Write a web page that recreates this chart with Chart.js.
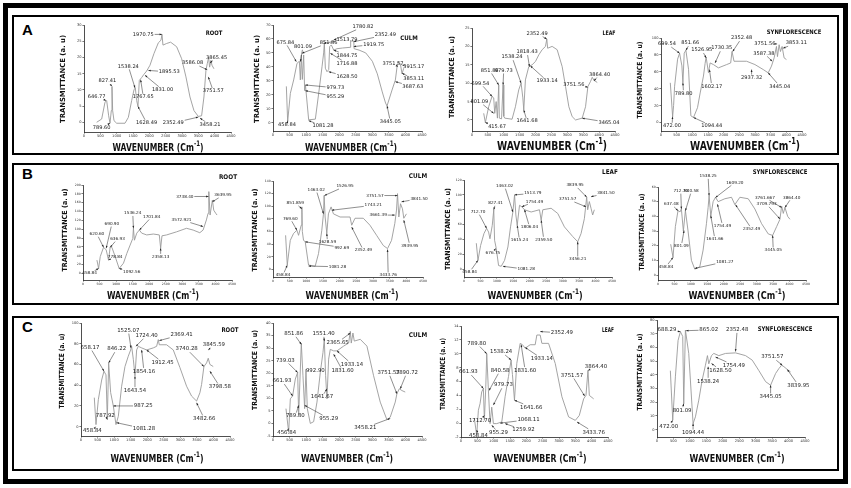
<!DOCTYPE html>
<html><head><meta charset="utf-8">
<script src="https://cdn.jsdelivr.net/npm/chart.js@4"></script>
<style>
html,body{margin:0;padding:0;background:#fff;}
#page{position:relative;width:851px;height:488px;overflow:hidden;background:#fff;font-family:"DejaVu Sans",sans-serif;}
.box{position:absolute;box-sizing:border-box;}
.t{position:absolute;white-space:nowrap;line-height:1;color:#111;font-weight:bold;font-family:"DejaVu Sans",sans-serif;}
.t sup{font-size:0.72em;position:relative;top:-0.1em;line-height:0;vertical-align:super;}
.letter{position:absolute;font-family:"Liberation Sans",Arial,sans-serif;font-weight:bold;font-size:15px;line-height:1;color:#000;}
canvas{position:absolute;}
</style></head><body><div id="page"></div>
<script>
// ---------- data ----------
const X_TICKS=[0,500,1000,1500,2000,2500,3000,3500,4000,4500];

const Y_TICKS_A_ROOT=[0,5,10,15,20,25,30];
const Y_TICKS_A_CULM=[0,10,20,30,40,50,60,70];
const Y_TICKS_A_LEAF=[0,5,10,15,20,25];
const Y_TICKS_A_SYNF=[0,20,40,60,80,100];
const Y_TICKS_B_ROOT=[0,20,40,60,80,100,120,140,160,180,200];
const Y_TICKS_B_CULM=[0,20,40,60,80,100,120,140];
const Y_TICKS_B_LEAF=[0,20,40,60,80,100,120];
const Y_TICKS_B_SYNF=[0,10,20,30,40,50,60];
const Y_TICKS_C_ROOT=[0,20,40,60,80,100];
const Y_TICKS_C_CULM=[-5,0,5,10,15,20,25,30,35,40];
const Y_TICKS_C_LEAF=[-2,0,2,4,6,8,10,12,14];
const Y_TICKS_C_SYNF=[0,10,20,30,40,50,60,70,80];

// spectra: [wavenumber, transmittance]
const A_ROOT=[[388,0],[541,1],[643,6.2],[694,6.7],[755,2],[796,-0.3],[836,3.6],[857,11],[877,3.6],[918,0.5],[1000,-0.3],[1255,-0.3],[1357,1.5],[1459,6.7],[1530,10],[1571,10.6],[1612,6.7],[1652,4.9],[1693,12.9],[1765,13.8],[1836,14.8],[1918,15.8],[2020,17.6],[2142,21.2],[2275,24.5],[2356,25.3],[2387,27.1],[2417,23.8],[2530,24.3],[2652,24.7],[2836,23.3],[2989,19.6],[3121,14],[3244,7.8],[3366,3.6],[3499,1.8],[3600,2],[3672,7.8],[3733,16],[3774,18.1],[3815,20],[3845,17],[3886,19.1],[3917,17.6],[3978,16.5]];
const A_CULM=[[403,26],[443,0.7],[524,21],[624,30.6],[725,42.5],[796,44],[826,30.6],[856,48.5],[886,31],[926,48.5],[956,23],[980,27],[1077,2],[1279,2.5],[1380,21],[1480,40],[1530,50],[1551,56.9],[1581,39],[1631,36.5],[1682,38],[1712,54.5],[1762,55.7],[1833,52],[1933,53],[2100,53.5],[2330,54],[2345,58.5],[2440,58.5],[2450,53],[2600,52],[2800,50],[3000,44],[3150,35],[3300,22],[3400,14],[3444,12],[3595,23.4],[3696,30.6],[3746,40],[3796,43.7],[3847,42],[3897,35],[3947,39]];
const A_LEAF=[[368,1.8],[420,-0.7],[525,3.6],[630,6.4],[683,6],[715,1.8],[760,5],[800,0.5],[841,9.5],[860,0.5],[930,0.3],[977,9.5],[1000,1],[1030,0.5],[1261,0.2],[1366,3.6],[1471,8.2],[1545,10],[1600,6],[1629,2.7],[1681,10.9],[1787,14.5],[1892,15],[1997,15.9],[2102,17.7],[2207,19.1],[2312,20],[2354,22],[2380,19.5],[2522,20],[2680,19.1],[2838,14.5],[2943,9.1],[3048,3.6],[3153,0.9],[3258,0],[3468,0.5],[3573,3.6],[3647,9.1],[3731,10.5],[3784,11.6],[3836,10.8],[3941,10.2]];
const A_SYNF=[[297,47],[371,7],[402,20],[434,43],[530,75],[593,82],[667,67],[699,47],[741,82],[794,85.5],[879,63],[953,8],[1038,6],[1165,17.6],[1250,35],[1355,55],[1408,70],[1440,77.6],[1514,59],[1567,70.5],[1673,68.6],[1832,64.7],[2097,68.6],[2224,70.5],[2266,84],[2330,72.5],[2732,72.5],[2997,68.6],[3262,62.7],[3421,58.8],[3526,66.7],[3611,76.5],[3685,90],[3717,78],[3770,92],[3812,84],[3865,90],[3929,76.5],[4003,74.5]];
const B_ROOT=[[421,30],[471,11],[521,38],[621,59],[701,53],[771,30],[822,60],[872,59],[972,38],[1092,11],[1222,23],[1323,45],[1423,64],[1503,79],[1523,102],[1553,75],[1623,91],[1703,98],[1774,91],[1924,87],[2124,89],[2304,87],[2345,57],[2385,85],[2525,87],[2826,94],[3126,102],[3327,98],[3527,92],[3627,98],[3727,121],[3778,136],[3800,185],[3838,132],[3908,166],[3948,143],[4008,136],[4048,132]];
const B_CULM=[[378,54],[428,7],[518,46],[618,57],[717,62],[767,54],[847,70],[867,99],[880,60],[916,46],[966,44],[1066,7],[1265,5],[1365,25],[1464,62],[1514,88],[1534,117],[1564,83],[1614,57],[1663,88],[1743,99],[1813,88],[2012,83],[2311,83],[2361,70],[2460,81],[2709,81],[2908,70],[3108,54],[3307,38],[3436,33],[3556,46],[3655,73],[3705,94],[3735,120],[3775,83],[3825,104],[3884,96],[3924,81],[4004,88]];
const B_LEAF=[[374,35],[425,12],[505,32],[607,48],[687,55],[748,50],[789,41],[859,59],[905,80],[930,39],[981,28],[1051,5],[1132,4],[1233,12],[1335,30],[1415,57],[1486,77],[1537,100],[1577,73],[1618,59],[1688,86],[1759,84],[1840,80],[2042,77],[2295,80],[2346,66],[2396,80],[2649,82],[2851,75],[3053,57],[3306,44],[3458,37],[3559,48],[3660,68],[3730,97],[3761,80],[3811,91],[3862,82],[3912,73],[3963,80]];
const B_SYNF=[[386,21],[457,12],[528,33],[610,44],[670,43],[711,45],[772,30],[833,44],[914,30],[1016,10],[1118,4],[1270,5.6],[1372,17],[1473,35],[1524,46],[1554,54],[1605,40],[1676,50],[1748,53],[1829,50],[2032,52],[2235,53],[2337,48],[2489,53],[2743,52],[2946,45],[3150,35],[3353,28],[3485,27],[3607,33],[3708,38],[3759,47],[3810,42],[3861,46],[3942,40],[4013,38]];
const C_ROOT=[[402,28],[453,2],[523,26],[624,45],[694,53.5],[755,50],[795,7],[835,61.5],[895,33],[976,20],[1056,2],[1127,10],[1227,39],[1328,58],[1428,68],[1499,74],[1529,77.5],[1580,65],[1630,49],[1680,74],[1730,77.5],[1831,76],[1982,74],[2183,76],[2284,77.5],[2334,84],[2364,79],[2585,79],[2787,74],[2988,57],[3189,39],[3340,29.5],[3491,24.7],[3591,32.7],[3642,40.7],[3712,58],[3793,61.5],[3843,66],[3893,60],[3994,58]];
const C_CULM=[[392,5.9],[473,-3.5],[523,9.8],[594,11],[674,17.7],[744,20.3],[775,3.3],[855,32],[905,19],[956,5.9],[996,21.6],[1036,5.9],[1127,0],[1227,0.7],[1328,8.5],[1428,20.3],[1509,28.2],[1549,33.5],[1589,19],[1630,9.8],[1680,25.6],[1730,29.5],[1831,28.9],[1932,28.9],[2133,30.8],[2284,32],[2334,36.7],[2364,32],[2414,36],[2455,32.8],[2636,33.5],[2837,30.8],[3038,19],[3239,8.5],[3440,1.5],[3540,2.5],[3692,8.5],[3742,11.8],[3813,13.8],[3893,13.1],[3994,12.5]];
const C_LEAF=[[409,0.65],[481,-1.76],[532,1.86],[583,2.8],[634,4.5],[685,5],[716,0.4],[757,5],[788,10],[839,4.7],[890,-0.07],[941,2.3],[992,-0.07],[1095,-0.07],[1248,0.17],[1350,3.8],[1453,6.7],[1534,9.1],[1575,7],[1637,3.3],[1708,8.6],[1811,11.5],[1882,11.3],[1964,10.8],[2118,11.3],[2271,11.3],[2322,12.7],[2424,12.7],[2476,11.5],[2680,11.5],[2885,8.6],[3089,3.8],[3294,0.9],[3499,0.4],[3621,1.1],[3754,3.5],[3826,4],[3887,7.6],[3928,4],[4061,3.5]];
const C_SYNF=[[406,43],[478,7],[559,38.5],[640,65],[711,71.5],[782,68],[813,19],[864,72.7],[965,55.6],[1097,4.4],[1168,9.3],[1270,21.5],[1372,36],[1473,47],[1534,54],[1575,48],[1656,54],[1727,55.6],[1880,54],[2083,55.6],[2388,56],[2692,54],[2896,50.7],[3099,43],[3302,35],[3454,32.4],[3607,41],[3708,44.6],[3790,47],[3861,45.9],[3962,43.9],[4064,42]];

// peak labels: [text, peak wavenumber, peak value, label wavenumber, label value]
const A_ROOT_PEAKS=[['646.77',673,6.7,388,8.0],['827.41',857,11.1,714,12.7],['789.60',796,-0.3,541,-1.6],['1538.24',1561,10.6,1357,17.3],['1970.75',2387,27.1,1816,27.1],['1895.53',1969,16,2611,15.5],['1831.00',1867,14.5,2407,10],['1767.65',1734,13.1,1816,7.8],['1628.49',1652,4.9,1918,-0.2],['2352.49',3499,1.6,2734,-0.2],['3458.21',3550,1.3,3856,-0.8],['3586.08',3774,16.2,3325,18.3],['3865.45',3856,18.3,4060,20],['3751.57',3805,14,3958,9.6]];
const A_CULM_PEAKS=[['675.84',705,43.7,373,57.6],['801.09',826,43.7,906,54.5],['851.86',876,49.7,1682,57.3],['1780.82',1833,59.2,2719,68.8],['1513.79',1531,56.9,2235,59.7],['2352.49',2437,58,3394,62.8],['1919.75',2437,54.5,3041,56.1],['1844.75',1833,52,2235,48.3],['1716.88',1732,49.7,2235,42.5],['1628.50',1682,36.5,2235,33],['979.73',977,27,1883,25],['955.29',977,22.9,1883,18.6],['458.84',443,1.4,423,-1.5],['1081.28',1077,1.4,1510,-2.4],['3445.05',3444,12,3545,0.7],['3751.57',3776,40,3625,42.5],['3915.17',3897,41.3,4250,40],['3853.11',3897,35.4,4250,31.3],['3687.63',3696,29.4,4219,25.8]];
const A_LEAF_PEAKS=[['699.54',631,6.4,263,10],['801.09',683,1.8,231,5],['415.67',420,-0.7,788,-1.8],['851.86',841,9.5,557,13.5],['979.73',977,9.5,998,13.5],['1538.24',1545,10,1261,17.1],['1818.43',1808,14.5,1734,18.5],['2352.49',2354,22,2049,23.5],['1933.14',1839,14.7,2365,10.6],['1641.68',1629,2.7,1734,-0.3],['3751.56',3647,8.9,3206,9.7],['3864.40',3836,10.6,4015,12.4],['3465.04',3468,0.5,4309,-0.7]];
const A_SYNF_PEAKS=[['699.54',593,82,191,93],['851.66',794,85.5,933,94],['789.80',699,47,720,34.5],['472.00',371,7,350,-4],['1526.95',1440,76.5,1303,86],['1730.35',1726,70.5,1938,88],['1602.17',1546,62.7,1620,43],['1094.44',1038,6,1620,-4],['2352.48',2287,84,2573,100],['3751.56',3706,93,3315,93],['3853.11',3897,88,4321,94],['3587.38',3548,72.5,3283,82],['2937.32',2891,62.7,2891,53],['3445.04',3421,58.8,3791,43]];
const B_ROOT_PEAKS=[['620.60',621,59,421,89],['690.90',701,57,872,112],['636.93',822,59,1042,78],['778.84',771,30,972,38],['458.84',471,11,200,0],['1092.56',1092,11,1473,4],['1536.24',1523,102,1503,136],['1701.84',1703,98,2074,128],['2358.13',2345,57,2345,38],['3572.921',3627,106,2976,121],['3738.40',3790,174,3076,174],['3639.95',3908,162,4228,177]];
const B_CULM_PEAKS=[['769.60',717,62,518,80.5],['851.859',867,96,667,105],['1463.02',1514,88,1295,126],['1526.95',1544,117,2161,131.6],['1743.21',1763,93.7,3008,101.6],['1628.59',1614,57,1633,43.7],['992.69',966,43.7,2062,34.7],['2352.49',2361,67,2709,30.5],['3661.39',3655,86,3157,86],['3751.57',3735,117,3058,117],['3841.50',3855,107,4382,112],['3939.95',3924,78,4104,38],['3433.76',3436,31.6,3456,-9],['458.84',428,6.8,299,-9],['1081.28',1066,5.3,1932,4.2]];
const B_LEAF_PEAKS=[['712.70',687,55,425,77],['827.41',905,80,960,89],['676.75',960,28,880,22],['458.84',425,12,172,-3.6],['1081.28',1183,4,1891,0],['1463.02',1486,77,1233,112],['1513.79',1537,100,2093,102],['1754.49',1759,84,2143,91],['1806.04',1840,80,1992,57],['1615.24',1618,59,1688,39],['2359.50',2346,66,2426,40],['3839.95',3730,97,3377,113],['3751.57',3710,84,3154,94],['3841.50',3862,97.5,4317,102],['3456.21',3458,37,3458,13.5]];
const B_SYNF_PEAKS=[['637.48',610,43.8,406,48.3],['712.70',711,45,691,57.3],['840.58',833,43.8,1016,57.3],['801.09',792,30.3,711,20],['458.84',457,12,244,5.6],['1081.27',1118,4.5,2032,9],['1538.25',1554,54,1524,67.4],['1609.20',1748,52.8,2337,63],['1641.66',1605,40.4,1727,24.7],['1754.49',1808,48.3,1961,33.7],['2352.49',2357,47.9,2845,31.5],['3761.667',3759,46,3251,52.8],['3709.793',3708,38.2,3302,48.3],['3864.40',3861,46,4064,52.8],['3445.05',3485,27,3505,16.9]];
const C_ROOT_PEAKS=[['658.17',694,53.5,272,76.6],['846.22',835,61.5,1076,75],['787.92',795,7,734,10.9],['458.84',443,0,342,-4.2],['987.25',976,20,1881,20],['1081.28',1076,3.8,1902,-1.9],['1525.07',1509,76,1428,93],['1724.40',1660,77.6,1982,88],['1643.54',1630,48.7,1630,35],['1854.16',1831,74,1901,53.5],['1912.45',1982,74,2465,62],['2369.41',2364,83,3038,88.8],['3740.28',3712,58,3189,75],['3845.59',3843,74,4014,79],['3798.58',3893,53.5,4195,38.5],['3482.66',3491,23,3722,7.7]];
const C_CULM_PEAKS=[['851.86',855,31.5,624,35.8],['739.03',744,20.3,372,25.2],['661.93',594,10.9,272,17],['789.80',775,7.2,674,3],['456.84',473,-2,412,-3.7],['992.90',996,20.3,1278,21],['955.29',956,7.2,1680,2],['1551.40',1549,32.8,1529,35.8],['2365.65',2334,36,1952,32.2],['1933.14',1932,28.9,2384,23.6],['1831.60',1831,27.6,2103,21],['1641.67',1630,13.8,1479,10.5],['3751.57',3742,11.8,3491,20.3],['3890.72',3843,13.8,4044,20.3],['3458.21',3541,2,2787,-1.7]];
const C_LEAF_PEAKS=[['789.80',788,10,481,11.5],['661.93',685,5,225,7.4],['840.58',859,4.7,1197,7.6],['979.73',992,2.6,1299,5.5],['1538.24',1534,9.1,1228,10.3],['1831.60',1841,11.3,1964,7.6],['1933.14',1964,10.9,2476,9.3],['2352.49',2424,13.2,3089,13],['1641.66',1637,3.3,2148,2.3],['1712.70',716,1.1,583,0.4],['1068.11',1197,0,2067,0.5],['1259.92',1350,-0.07,1912,-1],['955.29',941,-0.3,1146,-1.4],['458.84',481,-1.0,532,-1.8],['3751.57',3785,3.9,3396,6.9],['3864.40',3887,7.6,4133,8.1],['3433.76',3550,0.17,4061,-1.3]];
const C_SYNF_PEAKS=[['688.29',711,71.5,305,72.7],['865.02',884,72.2,1575,72.7],['2352.48',2388,57,2438,73],['801.09',813,19,762,14],['472.00',478,6.8,356,2.4],['1094.44',1097,4.4,1097,-2.4],['1538.24',1555,45.9,1555,35.4],['1628.50',1656,48.3,1930,43.4],['1754.49',1778,53,2337,47],['3751.57',3810,47,3505,53],['3445.05',3454,32.4,3454,24],['3839.95',3962,43.9,4298,32.4]];

// ---------- chart list (data) + layout (pixel placement) ----------
const CHARTS=[
 {name:'ROOT',data:A_ROOT,peaks:A_ROOT_PEAKS,yTicks:Y_TICKS_A_ROOT,yMin:-3,yMax:30,row:'A'},
 {name:'CULM',data:A_CULM,peaks:A_CULM_PEAKS,yTicks:Y_TICKS_A_CULM,yMin:-6,yMax:70,row:'A'},
 {name:'LEAF',data:A_LEAF,peaks:A_LEAF_PEAKS,yTicks:Y_TICKS_A_LEAF,yMin:-3,yMax:25,row:'A'},
 {name:'SYNFLORESCENCE',data:A_SYNF,peaks:A_SYNF_PEAKS,yTicks:Y_TICKS_A_SYNF,yMin:-10,yMax:100,row:'A'},
 {name:'ROOT',data:B_ROOT,peaks:B_ROOT_PEAKS,yTicks:Y_TICKS_B_ROOT,yMin:-15,yMax:200,row:'B'},
 {name:'CULM',data:B_CULM,peaks:B_CULM_PEAKS,yTicks:Y_TICKS_B_CULM,yMin:-12,yMax:140,row:'B'},
 {name:'LEAF',data:B_LEAF,peaks:B_LEAF_PEAKS,yTicks:Y_TICKS_B_LEAF,yMin:-10.4,yMax:120,row:'B'},
 {name:'SYNFLORESCENCE',data:B_SYNF,peaks:B_SYNF_PEAKS,yTicks:Y_TICKS_B_SYNF,yMin:-3.4,yMax:60,row:'B'},
 {name:'ROOT',data:C_ROOT,peaks:C_ROOT_PEAKS,yTicks:Y_TICKS_C_ROOT,yMin:-9,yMax:100,row:'C'},
 {name:'CULM',data:C_CULM,peaks:C_CULM_PEAKS,yTicks:Y_TICKS_C_CULM,yMin:-5,yMax:40,row:'C'},
 {name:'LEAF',data:C_LEAF,peaks:C_LEAF_PEAKS,yTicks:Y_TICKS_C_LEAF,yMin:-2,yMax:14,row:'C'},
 {name:'SYNFLORESCENCE',data:C_SYNF,peaks:C_SYNF_PEAKS,yTicks:Y_TICKS_C_SYNF,yMin:-5.4,yMax:80,row:'C'}
];
// plot rect [left,top,right,bottom]; title [cx,cy,width]; y-title [cx,cy,len]; x-title [cx,cy,width]
const LAYOUT=[
 {rect:[84,25,231,131.7],title:[214,33,17],yt:[63,79,88],xt:[158,147,91]},
 {rect:[273,25,422,131],title:[409,38,18],yt:[257,79,88],xt:[351,147,92]},
 {rect:[471.7,28.3,614.3,131],title:[609,33,13],yt:[452,77,82],xt:[552,147,110]},
 {rect:[660.7,38.3,801.7,131.7],title:[794,32,55],yt:[640,80,77],xt:[745,147,110]},
 {rect:[82.7,185,232,280],title:[228,177,18],yt:[65,230,83],xt:[153,295,92]},
 {rect:[272.7,180.7,423,277],title:[418,176,18],yt:[255,230,83],xt:[352,295,93]},
 {rect:[464.3,180,612.7,277],title:[610,172,16],yt:[448,229,82],xt:[535,295,95]},
 {rect:[658.3,186.7,806,280],title:[780,172,55],yt:[642,232,77],xt:[737,295,97]},
 {rect:[81,323.3,230,436.7],title:[230,330,17],yt:[62,371,75],xt:[157,458,93]},
 {rect:[272.7,323.3,421.7,436.7],title:[418,335,18],yt:[255,370,80],xt:[347,458,92]},
 {rect:[461,326,607.7,436.7],title:[608,330,12],yt:[443,374,72],xt:[540,458,93]},
 {rect:[656.7,320,804.3,436.7],title:[785,329,55],yt:[640,372,77],xt:[737,458,95]}
];
const ROW_STYLE={A:{peak:5.1,tick:3.6,title:6.2},B:{peak:4.2,tick:3.1,title:6.4},C:{peak:5.4,tick:3.6,title:6.4}};

// ---------- page frame ----------
const page=document.getElementById('page');
function box(l,t,w,h,b){const d=document.createElement('div');d.className='box';Object.assign(d.style,{left:l+'px',top:t+'px',width:w+'px',height:h+'px',border:b+'px solid #000'});page.appendChild(d);}
box(3,3,845,481,5);
box(12,15,827,140,2);
box(12,163,827,142,2);
box(12,316,827,155,2);
[['A',22,22],['B',22,166],['C',22,319]].forEach(([s,l,t])=>{const d=document.createElement('div');d.className='letter';d.textContent=s;d.style.left=l+'px';d.style.top=t+'px';page.appendChild(d);});

// ---------- peak label plugin ----------
const peakPlugin={id:'peaks',afterDatasetsDraw(chart,args,opts){
  const {ctx}=chart;const x=chart.scales.x,y=chart.scales.y;const fs=opts.size;
  ctx.save();ctx.font=fs+'px "DejaVu Sans"';ctx.textAlign='center';ctx.textBaseline='middle';
  (opts.list||[]).forEach(([txt,wn,t,twn,tt])=>{
    const px=x.getPixelForValue(wn),py=y.getPixelForValue(t);
    const cx=x.getPixelForValue(twn),cy=y.getPixelForValue(tt);
    const hw=ctx.measureText(txt).width/2+0.8,hh=fs/2+0.6;
    const dx=px-cx,dy=py-cy;
    const k=Math.min(dx?hw/Math.abs(dx):Infinity,dy?hh/Math.abs(dy):Infinity);
    if(k<1){
      const sx=cx+dx*k,sy=cy+dy*k;
      ctx.strokeStyle='#333';ctx.lineWidth=0.55;ctx.beginPath();ctx.moveTo(sx,sy);ctx.lineTo(px,py);ctx.stroke();
      const a=Math.atan2(py-sy,px-sx),L=2.4,W=0.9;
      ctx.fillStyle='#222';ctx.beginPath();ctx.moveTo(px,py);
      ctx.lineTo(px-L*Math.cos(a)+W*Math.sin(a),py-L*Math.sin(a)-W*Math.cos(a));
      ctx.lineTo(px-L*Math.cos(a)-W*Math.sin(a),py-L*Math.sin(a)+W*Math.cos(a));ctx.closePath();ctx.fill();
    }
    ctx.fillStyle='#1a1a1a';ctx.fillText(txt,cx,cy);
  });
  ctx.restore();
}};

// ---------- charts ----------
const ML=36,MR=34,MT=16,MB=14;
CHARTS.forEach((c,i)=>{
  const lay=LAYOUT[i],[x0,y0,x1,y1]=lay.rect,st=ROW_STYLE[c.row];
  const W=Math.round(x1-x0+ML+MR),H=Math.round(y1-y0+MT+MB);
  const cv=document.createElement('canvas');cv.width=W;cv.height=H;
  Object.assign(cv.style,{left:(x0-ML)+'px',top:(y0-MT)+'px',width:W+'px',height:H+'px'});
  page.appendChild(cv);
  const tickFont={size:st.tick,family:'DejaVu Sans'};
  const grid={display:true,drawOnChartArea:false,drawTicks:true,tickLength:1.6,color:'#222',lineWidth:0.6};
  const border={display:true,color:'#222',width:0.8};
  new Chart(cv,{type:'line',
    data:{datasets:[{data:c.data.map(([a,b])=>({x:a,y:b})),borderColor:'#9a9a9a',borderWidth:0.9,pointRadius:0,tension:0,fill:false}]},
    options:{responsive:false,animation:false,events:[],
      layout:{padding:{left:0,right:MR,top:MT,bottom:0}},
      plugins:{legend:{display:false},tooltip:{enabled:false},peaks:{list:c.peaks,size:st.peak}},
      scales:{
        x:{type:'linear',min:0,max:4500,
          afterBuildTicks:s=>{s.ticks=X_TICKS.map(v=>({value:v}));},
          afterFit:s=>{s.height=MB;},
          ticks:{font:tickFont,color:'#333',padding:0.6,maxRotation:0,autoSkip:false,callback:v=>String(v)},
          grid,border},
        y:{type:'linear',min:c.yMin,max:c.yMax,
          afterBuildTicks:s=>{s.ticks=c.yTicks.map(v=>({value:v}));},
          afterFit:s=>{s.width=ML;},
          ticks:{font:tickFont,color:'#333',padding:0.8,autoSkip:false,callback:v=>String(v)},
          grid,border}
      }},
    plugins:[peakPlugin]});
});

// ---------- text overlays ----------
function place(html,cx,cy,fs,target,rot){
  const d=document.createElement('div');d.className='t';d.innerHTML=html;d.style.fontSize=fs+'px';
  d.style.left=cx+'px';d.style.top=cy+'px';page.appendChild(d);
  const w=d.offsetWidth;const k=target?target/w:1;
  d.style.transform='translate(-50%,-50%)'+(rot?' rotate(-90deg)':'')+' scaleX('+k+')';
}
CHARTS.forEach((c,i)=>{
  const lay=LAYOUT[i],st=ROW_STYLE[c.row];
  place(c.name,lay.title[0],lay.title[1],st.title,lay.title[2],false);
  place('TRANSMITTANCE (a. u)',lay.yt[0],lay.yt[1],7,lay.yt[2],true);
  place('WAVENUMBER (Cm<sup>-1</sup>)',lay.xt[0],lay.xt[1],c.row==='A'&&i>=2?11.5:10.5,lay.xt[2],false);
});
</script>
</body></html>
